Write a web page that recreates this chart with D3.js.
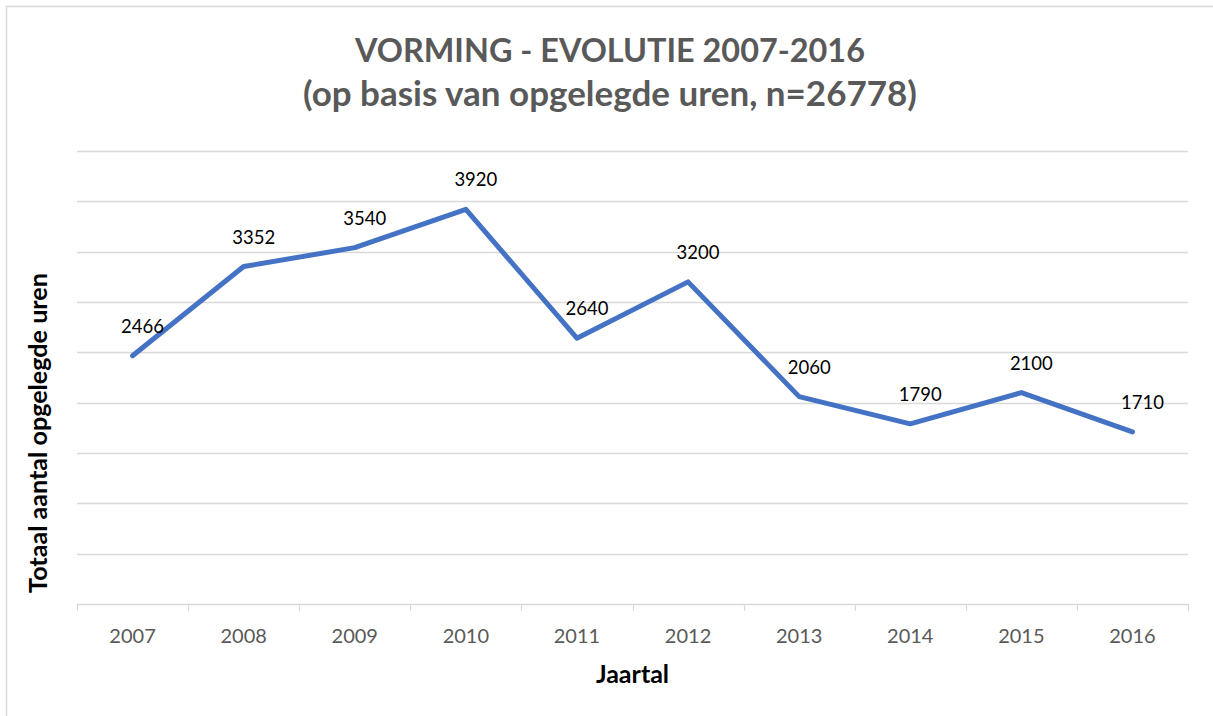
<!DOCTYPE html>
<html>
<head>
<meta charset="utf-8">
<script src="https://cdn.jsdelivr.net/npm/d3@7"></script>
<style>
  body { margin: 0; background: #fff; }
  svg { display: block; font-family: Lato, "Open Sans", sans-serif; }
</style>
</head>
<body>
<svg id="chart"></svg>
<script>
var width = 1213,
    height = 716;

var margin = {top: 151, right: 25, bottom: 112, left: 77};

// data
var years = ["2007", "2008", "2009", "2010", "2011", "2012", "2013", "2014", "2015", "2016"];
var hours = [2466, 3352, 3540, 3920, 2640, 3200, 2060, 1790, 2100, 1710];
var yTicks = [0, 500, 1000, 1500, 2000, 2500, 3000, 3500, 4000, 4500];
var titleLines = ["VORMING - EVOLUTIE 2007-2016", "(op basis van opgelegde uren, n=26778)"];

var svg = d3.select("#chart")
    .attr("width", width)
    .attr("height", height);

// scale font so a text fills the width it has in the original (Calibri is narrower)
function fitWidth(sel, target) {
  sel.each(function() {
    var w = this.getComputedTextLength(),
        fs = parseFloat(d3.select(this).style("font-size"));
    d3.select(this).style("font-size", (fs * target / w).toFixed(2) + "px");
  });
}

// outer frame
svg.append("rect")
    .attr("x", 6.5).attr("y", 6.5)
    .attr("width", width + 10).attr("height", height + 10)
    .attr("fill", "#fff")
    .attr("stroke", "#d9d9d9")
    .attr("stroke-width", 1.5);

var x = d3.scaleBand()
    .domain(years)
    .range([margin.left, width - margin.right])
    .padding(0);

var y = d3.scaleLinear()
    .domain([0, 4500])
    .range([height - margin.bottom, margin.top]);

// gridlines
svg.append("g")
    .selectAll("line")
    .data(yTicks)
    .enter().append("line")
    .attr("x1", margin.left)
    .attr("x2", width - margin.right)
    .attr("y1", function(d) { return Math.round(y(d)) + 0.5; })
    .attr("y2", function(d) { return Math.round(y(d)) + 0.5; })
    .attr("stroke", "#d9d9d9")
    .attr("stroke-width", 1.3);

// x axis ticks at band edges
var edges = years.map(function(d) { return x(d); }).concat(width - margin.right);
svg.append("g")
    .selectAll("line")
    .data(edges)
    .enter().append("line")
    .attr("x1", function(d) { return Math.round(d) + 0.5; })
    .attr("x2", function(d) { return Math.round(d) + 0.5; })
    .attr("y1", y(0))
    .attr("y2", y(0) + 7)
    .attr("stroke", "#d9d9d9")
    .attr("stroke-width", 1.3);

svg.append("g")
    .selectAll("text")
    .data(years)
    .enter().append("text")
    .attr("x", function(d) { return x(d) + x.bandwidth() / 2; })
    .attr("y", 643)
    .attr("text-anchor", "middle")
    .attr("fill", "#595959")
    .style("font-size", "20px")
    .text(function(d) { return d; });

// line
var line = d3.line()
    .x(function(d, i) { return x(years[i]) + x.bandwidth() / 2; })
    .y(function(d) { return y(d); });

svg.append("path")
    .datum(hours)
    .attr("d", line)
    .attr("fill", "none")
    .attr("stroke", "#4472c4")
    .attr("stroke-width", 5)
    .attr("stroke-linejoin", "round")
    .attr("stroke-linecap", "round");

// data labels
svg.append("g")
    .selectAll("text")
    .data(hours)
    .enter().append("text")
    .attr("x", function(d, i) { return x(years[i]) + x.bandwidth() / 2 + 10; })
    .attr("y", function(d) { return y(d) - 23; })
    .attr("text-anchor", "middle")
    .attr("fill", "#000")
    .style("font-size", "18.5px")
    .text(function(d) { return d; });

// titles
var titleWidths = [510, 614];
svg.append("g")
    .selectAll("text")
    .data(titleLines)
    .enter().append("text")
    .attr("x", 610)
    .attr("y", function(d, i) { return i ? 106 : 62; })
    .attr("text-anchor", "middle")
    .attr("fill", "#595959")
    .style("font-size", "32px")
    .style("font-weight", "bold")
    .text(function(d) { return d; })
    .each(function(d, i) { fitWidth(d3.select(this), titleWidths[i]); });

svg.append("text")
    .attr("x", (margin.left + width - margin.right) / 2)
    .attr("y", 683)
    .attr("text-anchor", "middle")
    .attr("fill", "#000")
    .style("font-size", "25px")
    .style("font-weight", "bold")
    .text("Jaartal");

svg.append("text")
    .attr("transform", "translate(47,433)rotate(-90)")
    .attr("text-anchor", "middle")
    .attr("fill", "#000")
    .style("font-size", "25px")
    .style("font-weight", "bold")
    .text("Totaal aantal opgelegde uren")
    .call(fitWidth, 320);
</script>
</body>
</html>
